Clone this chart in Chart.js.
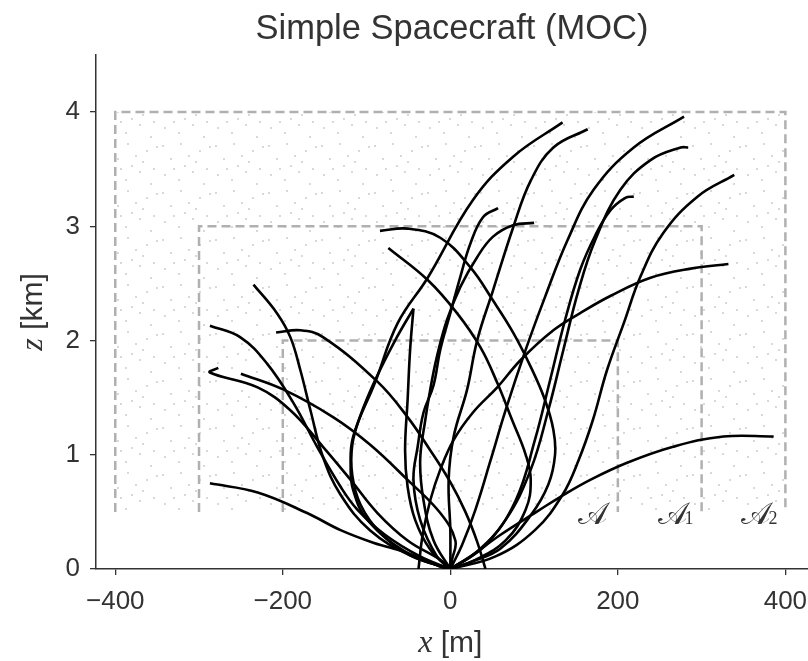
<!DOCTYPE html>
<html>
<head>
<meta charset="utf-8">
<script src="https://cdn.jsdelivr.net/npm/chart.js@4.4.1/dist/chart.umd.min.js"></script>
<style>
  html, body { margin: 0; padding: 0; background: #fff; }
  #wrap { width: 808px; height: 661px; }
</style>
</head>
<body>
<div id="wrap"><canvas id="moc"></canvas></div>
<script>
// axis ticks
const xTicks = [-400, -200, 0, 200, 400];
const zTicks = [0, 1, 2, 3, 4];

// target regions A, A1, A2 (half width in m, top in km, bottom in km)
const regionNames = ['𝒜', '𝒜', '𝒜'];
const regionSubs = ['', '1', '2'];
const regionHalfWidth = [200, 300, 400];
const regionTop = [2, 3, 4];
const regionBottom = 0.5;

// trajectories: x in m, z in km
const trajX = [
  [134, 75, 27, -27, -63, -90, -116, -119, -116, -99, -51, 0],
  [164, 123, 96, 75, 51, 32, 20, 4, -2, 0, 0],
  [279, 219, 171, 140, 113, 90, 66, 48, 30, 14, 0],
  [284, 275, 239, 203, 173, 153, 135, 117, 96, 66, 30, 0],
  [339, 295, 254, 227, 207, 187, 170, 153, 134, 101, 54, 0],
  [332, 287, 239, 191, 155, 123, 84, 56, 27, 4, -12, -24, -33, -38],
  [386, 326, 266, 211, 167, 131, 107, 60, 24, 0],
  [57, 39, 24, 12, 0, -12, -20, -32, -39, -44, -36, -16, 0],
  [100, 75, 51, 32, 12, -4, -16, -24, -30, -36, -32, -20, 0],
  [219, 209, 191, 173, 155, 137, 119, 101, 78, 42, 0],
  [-84, -51, -12, 24, 51, 75, 96, 113, 123, 125, 117, 96, 60, 24, 0],
  [-74, -27, 8, 36, 56, 74, 90, 96, 90, 66, 30, 0],
  [-44, -48, -51, -54, -51, -42, -24, 0],
  [-44, -66, -90, -107, -117, -117, -107, -84, -48, 0],
  [-287, -230, -171, -131, -92, -51, -12, 0],
  [-277, -287, -230, -191, -152, -119, -87, -51, -12, 0],
  [-287, -251, -219, -187, -159, -131, -111, -78, -36, 0],
  [-235, -207, -191, -179, -167, -152, -131, -96, -48, 0],
  [-250, -199, -140, -96, -51, -12, 6, 2, 0],
  [-208, -179, -152, -87, -51, -24, 0, 18, 32, 42]
];
const trajZ = [
  [3.91, 3.61, 3.23, 2.55, 2.15, 1.63, 1.16, 0.89, 0.69, 0.43, 0.14, 0],
  [3.85, 3.69, 3.40, 2.99, 2.44, 2.00, 1.57, 1.16, 0.78, 0.34, 0],
  [3.96, 3.69, 3.32, 2.88, 2.38, 1.92, 1.39, 0.95, 0.52, 0.21, 0],
  [3.69, 3.69, 3.58, 3.32, 2.88, 2.44, 1.92, 1.39, 0.87, 0.43, 0.14, 0],
  [3.45, 3.26, 2.94, 2.56, 2.15, 1.74, 1.30, 0.95, 0.65, 0.34, 0.11, 0],
  [2.67, 2.63, 2.55, 2.39, 2.24, 2.09, 1.83, 1.59, 1.37, 1.13, 0.87, 0.60, 0.30, 0],
  [1.16, 1.16, 1.07, 0.93, 0.78, 0.63, 0.52, 0.30, 0.11, 0],
  [3.16, 3.08, 2.85, 2.56, 2.24, 1.92, 1.61, 1.37, 1.07, 0.78, 0.43, 0.11, 0],
  [3.03, 3.01, 2.91, 2.73, 2.47, 2.18, 1.86, 1.57, 1.30, 0.95, 0.60, 0.25, 0],
  [3.26, 3.25, 3.14, 2.92, 2.62, 2.18, 1.65, 1.13, 0.60, 0.21, 0],
  [2.96, 2.98, 2.90, 2.64, 2.35, 2.07, 1.77, 1.48, 1.22, 1.00, 0.74, 0.47, 0.18, 0.06, 0],
  [2.81, 2.53, 2.24, 1.94, 1.63, 1.30, 1.00, 0.78, 0.52, 0.25, 0.08, 0],
  [2.28, 1.92, 1.48, 1.04, 0.72, 0.43, 0.17, 0],
  [2.28, 2.00, 1.65, 1.35, 1.09, 0.82, 0.56, 0.32, 0.12, 0],
  [0.75, 0.67, 0.49, 0.34, 0.23, 0.14, 0.02, 0],
  [1.76, 1.72, 1.59, 1.39, 1.07, 0.78, 0.49, 0.25, 0.08, 0],
  [2.13, 2.03, 1.80, 1.45, 1.07, 0.72, 0.52, 0.30, 0.11, 0],
  [2.49, 2.24, 2.03, 1.74, 1.39, 0.98, 0.65, 0.34, 0.12, 0],
  [1.71, 1.57, 1.33, 1.09, 0.78, 0.49, 0.25, 0.08, 0],
  [2.07, 2.09, 2.03, 1.64, 1.33, 1.04, 0.76, 0.50, 0.24, 0]
];

const textColor = '#333333';
const axisColor = '#333333';
const sansFamily = '"Liberation Sans", Arial, sans-serif';

// light speckle texture for the sampled area
function makeSpeckle() {
  const c = document.createElement('canvas');
  c.width = 53; c.height = 47;
  const g = c.getContext('2d');
  g.fillStyle = '#d8d8d8';
  [[3, 4], [21, 2], [40, 9], [11, 17], [29, 14], [47, 27], [5, 33], [19, 38],
   [33, 30], [44, 42], [25, 24], [14, 27], [36, 20], [50, 5]]
    .forEach(p => g.fillRect(p[0], p[1], 2, 2));
  return c;
}

const speckle = {
  id: 'speckle',
  beforeDatasetsDraw(chart) {
    const { ctx, scales: { x, y } } = chart;
    const i = regionHalfWidth.length - 1;
    const l = x.getPixelForValue(-regionHalfWidth[i]);
    const r = x.getPixelForValue(regionHalfWidth[i]);
    const t = y.getPixelForValue(regionTop[i]);
    const b = y.getPixelForValue(regionBottom);
    ctx.save();
    ctx.fillStyle = ctx.createPattern(makeSpeckle(), 'repeat');
    ctx.fillRect(l, t, r - l, b - t);
    ctx.restore();
  }
};

const texts = {
  id: 'texts',
  afterDraw(chart) {
    const { ctx, chartArea: a, scales: { x, y } } = chart;
    ctx.save();
    ctx.fillStyle = textColor;
    ctx.textBaseline = 'alphabetic';
    // title
    ctx.textAlign = 'center';
    ctx.font = '34.5px ' + sansFamily;
    ctx.fillText('Simple Spacecraft (MOC)', (a.left + a.right) / 2, 39);

    // region labels
    const bigFont = '31px "DejaVu Sans", "Noto Sans", serif';
    const subFont = '18px "Liberation Serif", serif';
    regionNames.forEach((n, i) => {
      const cx = x.getPixelForValue(regionHalfWidth[i]) - 25;
      const by = y.getPixelForValue(regionBottom) + 12;
      ctx.font = bigFont;
      const w = ctx.measureText(n).width;
      ctx.font = subFont;
      const ws = regionSubs[i] ? ctx.measureText(regionSubs[i]).width : 0;
      const left = cx - (w + ws) / 2;
      ctx.textAlign = 'left';
      ctx.font = bigFont;
      ctx.fillText(n, left, by);
      if (regionSubs[i]) {
        ctx.font = subFont;
        ctx.fillText(regionSubs[i], left + w - 2, by);
      }
    });

    // axis titles: italic serif symbol + sans unit
    const drawMixed = (parts, cx, cy) => {
      let w = 0;
      parts.forEach(p => { ctx.font = p[1]; w += ctx.measureText(p[0]).width; });
      let px = cx - w / 2;
      ctx.textAlign = 'left';
      parts.forEach(p => { ctx.font = p[1]; ctx.fillText(p[0], px, cy); px += ctx.measureText(p[0]).width; });
    };
    const serif = 'italic 32px "Liberation Serif", serif';
    const sans = '30px ' + sansFamily;
    drawMixed([['x', serif], [' [m]', sans]], x.getPixelForValue(0), 652);
    ctx.translate(42, (a.top + a.bottom) / 2);
    ctx.rotate(-Math.PI / 2);
    drawMixed([['z', serif], [' [km]', sans]], 0, 0);
    ctx.restore();
  }
};

const datasets = [];
trajX.forEach((xs, i) => {
  datasets.push({
    data: xs.map((v, j) => ({ x: v, y: trajZ[i][j] })),
    showLine: true,
    borderColor: '#000',
    borderWidth: 2.6,
    pointRadius: 0,
    tension: 0.4,
    order: 0
  });
});
regionHalfWidth.forEach((w, i) => {
  datasets.push({
    data: [
      { x: -w, y: regionBottom }, { x: -w, y: regionTop[i] },
      { x: w, y: regionTop[i] }, { x: w, y: regionBottom }
    ],
    showLine: true,
    borderColor: '#b0b0b0',
    borderWidth: 2.5,
    borderDash: [9, 5],
    pointRadius: 0,
    tension: 0,
    order: 1
  });
});

new Chart(document.getElementById('moc'), {
  type: 'scatter',
  data: { datasets },
  options: {
    responsive: true,
    maintainAspectRatio: false,
    animation: false,
    layout: { padding: { top: 55, right: 0, left: 0, bottom: 0 } },
    plugins: { legend: { display: false }, tooltip: { enabled: false }, title: { display: false } },
    scales: {
      x: {
        min: -423, max: 427,
        afterFit(s) { s.height = 92; s.paddingLeft = 0; s.paddingRight = 0; },
        afterBuildTicks(s) { s.ticks = xTicks.map(v => ({ value: v })); },
        grid: { display: true, drawOnChartArea: false, drawTicks: true, tickLength: 6, color: axisColor, lineWidth: 1.3 },
        border: { display: true, color: axisColor, width: 1.5 },
        ticks: {
          color: textColor, padding: 11, maxRotation: 0,
          font: { family: sansFamily, size: 26 },
          callback: v => (v < 0 ? '\u2212' + Math.abs(v) : String(v))
        }
      },
      y: {
        min: 0, max: 4.5,
        afterFit(s) { s.width = 96; s.paddingTop = 0; s.paddingBottom = 0; },
        afterBuildTicks(s) { s.ticks = zTicks.map(v => ({ value: v })); },
        grid: { display: true, drawOnChartArea: false, drawTicks: true, tickLength: 6, color: axisColor, lineWidth: 1.3 },
        border: { display: true, color: axisColor, width: 1.5 },
        ticks: {
          color: textColor, padding: 10,
          font: { family: sansFamily, size: 26 }
        }
      }
    }
  },
  plugins: [speckle, texts]
});
</script>
</body>
</html>
